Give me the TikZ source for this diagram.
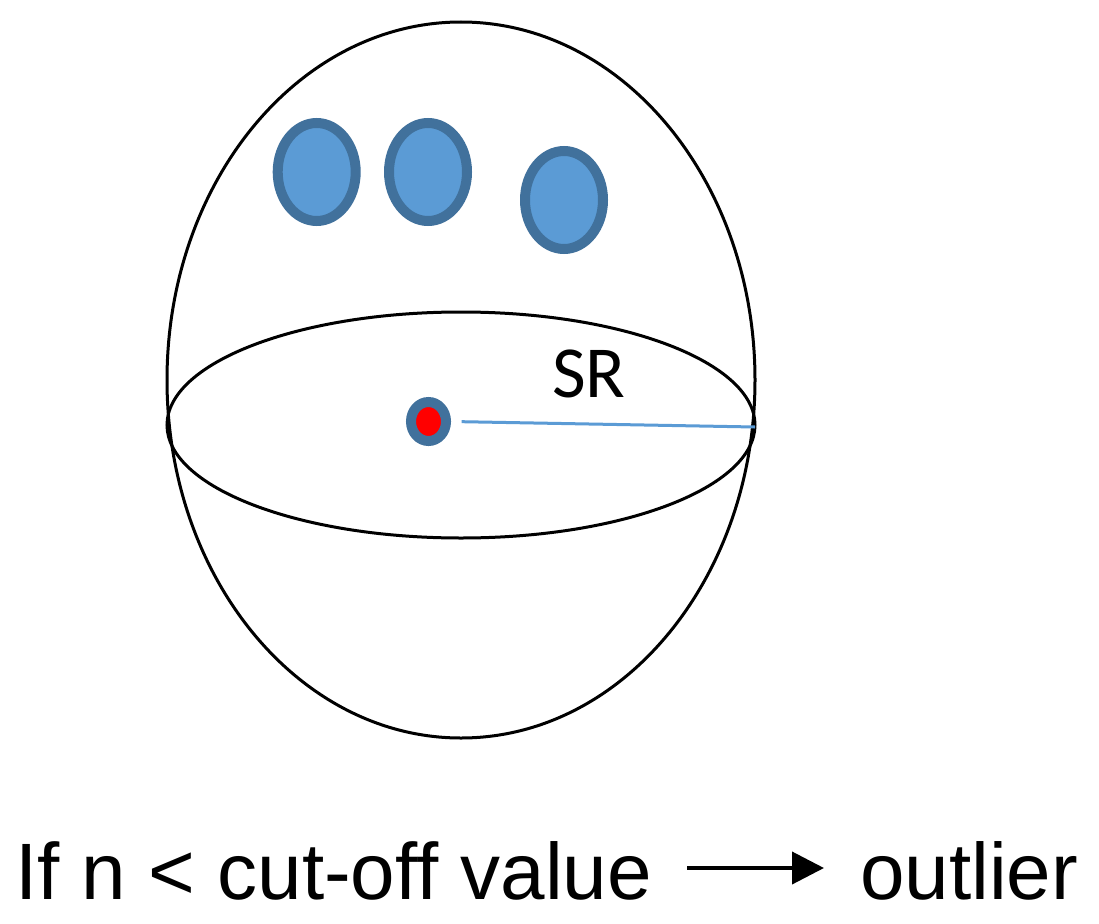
\documentclass[tikz,border=0pt]{standalone}
\usepackage{fontspec}
\setmainfont{Liberation Sans}
\newfontfamily\calfont{Carlito}
\usetikzlibrary{shapes.geometric,arrows.meta}
\definecolor{blobfill}{HTML}{5B9BD5}
\definecolor{blobedge}{HTML}{41719C}
\definecolor{srblue}{HTML}{5B9BD5}
\tikzset{
  outline/.style={draw=black,line width=2.25pt},
  blob/.style={ellipse,draw=blobedge,fill=blobfill,line width=7.5pt,inner sep=0pt,
    minimum width=58.5pt,minimum height=73.5pt},
  centerdot/.style={ellipse,draw=blobedge,fill=red,line width=7.5pt,inner sep=0pt,
    minimum width=26.25pt,minimum height=29.25pt},
  srline/.style={draw=srblue,line width=2.25pt},
  bigtext/.style={anchor=base west,inner sep=0pt,font=\fontsize{60}{72}\selectfont},
  srtext/.style={anchor=base west,inner sep=0pt,font=\calfont\fontsize{55}{66}\selectfont},
  implies/.style={line width=3pt,-{Triangle[length=24pt,width=24pt]}}
}
\begin{document}
\begin{tikzpicture}[x=0.75pt,y=-0.75pt]
\useasboundingbox (0,0) rectangle (1099,924);
\fill[white] (0,0) rectangle (1099,924);
% outer sphere outline and equator
\draw[outline] (461,380) ellipse [x radius=294, y radius=358];
\draw[outline] (461,425) ellipse [x radius=294, y radius=113];
% neighbouring points
\node[blob] (b1) at (316.7,172) {};
\node[blob] (b2) at (428,172) {};
\node[blob] (b3) at (564,200) {};
% query point
\node[centerdot] (c) at (428.5,421.5) {};
\coordinate (eqR) at (755,427);
\draw[srline,shorten <=8pt] (c.east) -- (eqR);
\node[srtext] (sr) at (552,397) {SR};
% rule text
\node[bigtext] (cond) at (15,899) {If n < cut-off value};
\node[bigtext] (res) at (860,899) {outlier};
\coordinate (arS) at (687,868);
\coordinate (arE) at (824,868);
\draw[implies] (arS) -- (arE);
\end{tikzpicture}
\end{document}
